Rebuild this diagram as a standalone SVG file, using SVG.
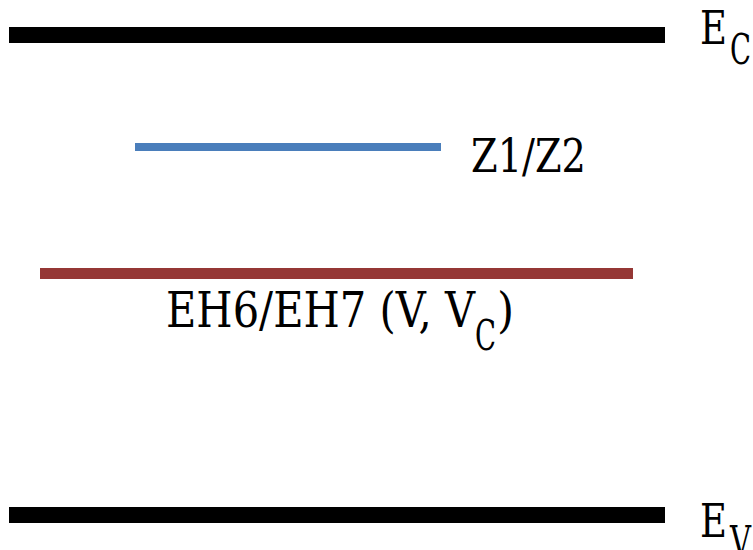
<svg xmlns="http://www.w3.org/2000/svg" width="753" height="550" viewBox="0 0 753 550">
<style>
text{font-family:'DejaVu Serif',serif;fill:#000}
.main{font-size:44px}
.sub{font-size:30px}
</style>
<rect width="753" height="550" fill="#fff"/>
<g id="levels">
<g id="Ec"><rect x="9" y="27" width="656" height="16" fill="#000"/>
<text class="main" textLength="27" lengthAdjust="spacingAndGlyphs" transform="translate(700,43.5) scale(1,1.05)">E</text>
<text class="sub" textLength="21" lengthAdjust="spacingAndGlyphs" transform="translate(730,63.5) scale(1,1.4)">C</text></g>
<g id="Z1Z2"><rect x="135" y="143" width="306" height="8" fill="#4a7ebb"/>
<text class="main" textLength="115" lengthAdjust="spacingAndGlyphs" transform="translate(471,171.7) scale(1,1.05)">Z1/Z2</text></g>
<g id="EH6EH7"><rect x="40" y="268" width="593" height="11" fill="#953735"/>
<text class="main" textLength="309" lengthAdjust="spacingAndGlyphs" transform="translate(166,327) scale(1,1.1)">EH6/EH7 (V, V</text>
<text class="sub" textLength="21" lengthAdjust="spacingAndGlyphs" transform="translate(475,350) scale(1,1.4)">C</text>
<text class="main" transform="translate(497,327) scale(1,1.1)">)</text></g>
<g id="Ev"><rect x="9" y="507" width="656" height="16" fill="#000"/>
<text class="main" textLength="27" lengthAdjust="spacingAndGlyphs" transform="translate(700,537.3) scale(1,1.05)">E</text>
<text class="sub" textLength="21" lengthAdjust="spacingAndGlyphs" transform="translate(730,556) scale(1,1.4)">V</text></g>
</g>
<g id="connectors"></g>
</svg>
